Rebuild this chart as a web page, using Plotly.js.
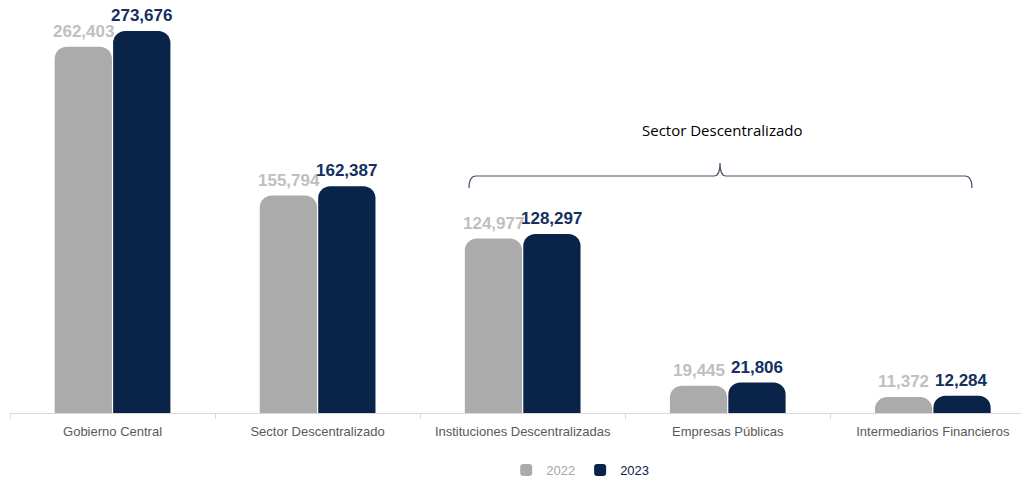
<!DOCTYPE html>
<html>
<head>
<meta charset="utf-8">
<script src="https://cdn.plot.ly/plotly-3.0.1.min.js"></script>
<style>html,body{margin:0;padding:0;background:#fff;}#chart{width:1025px;height:483px;}</style>
</head>
<body>
<div id="chart"></div>
<script>
const categories = ["Gobierno Central", "Sector Descentralizado", "Instituciones Descentralizadas", "Empresas Públicas", "Intermediarios Financieros"];
const values2022 = [262403, 155794, 124977, 19445, 11372];
const values2023 = [273676, 162387, 128297, 21806, 12284];
const seriesNames = ["2022", "2023"];
const bracketLabel = "Sector Descentralizado";

const gray = "#ababab", navy = "#0a2449";
const grayText = "#bfbfbf", navyText = "#14305e";

const fmt = v => v.toLocaleString("en-US");

const traces = [
  {type: "bar", x: categories, y: values2022, name: '<span style="color:#a6a6a6">' + seriesNames[0] + '</span>',
   marker: {color: gray, cornerradius: 12, line: {width: 0}}, hoverinfo: "none"},
  {type: "bar", x: categories, y: values2023, name: '<span style="color:' + navy + '">' + seriesNames[1] + '</span>',
   marker: {color: navy, cornerradius: 12, line: {width: 0}}, hoverinfo: "none"}
];

const annotations = [];
categories.forEach((c, i) => {
  annotations.push({x: c, y: values2022[i], xref: "x", yref: "y", text: fmt(values2022[i]), showarrow: false,
    xshift: -29, yshift: 4, yanchor: "bottom", font: {family: "Liberation Sans, Arial", size: 17, color: grayText, weight: "bold"}});
  annotations.push({x: c, y: values2023[i], xref: "x", yref: "y", text: fmt(values2023[i]), showarrow: false,
    xshift: 29, yshift: 4, yanchor: "bottom", font: {family: "Liberation Sans, Arial", size: 17, color: navyText, weight: "bold"}});
});
annotations.push({x: 0.704, y: 0.72, xref: "paper", yref: "paper", text: bracketLabel, showarrow: false,
  xanchor: "center", yanchor: "middle", font: {family: "Open Sans, Liberation Sans", size: 15, color: "#000"}});

const layout = {
  width: 1025, height: 483,
  margin: {l: 10, r: 4, t: 20, b: 70, autoexpand: false},
  paper_bgcolor: "#fff", plot_bgcolor: "#fff",
  barmode: "group", bargap: 0.43, bargroupgap: 0.02,
  showlegend: true,
  legend: {orientation: "h", x: 0.564, xanchor: "center", yref: "container", y: 0.027, yanchor: "middle",
    font: {family: "Liberation Sans, Arial", size: 13}, itemwidth: 30, traceorder: "normal"},
  xaxis: {type: "category", range: [-0.5, 4.43], showline: true, linecolor: "#d9d9d9", linewidth: 1,
    ticks: "outside", tickson: "boundaries", ticklen: 5, tickcolor: "#d9d9d9", ticklabelstandoff: 6,
    tickfont: {family: "Liberation Sans, Arial", size: 13, color: "#595959"}, showgrid: false, zeroline: false,
    automargin: false, fixedrange: true},
  yaxis: {range: [0, 281500], visible: false, showgrid: false, zeroline: false, fixedrange: true},
  annotations: annotations,
  shapes: [{type: "path", xref: "paper", yref: "paper",
    path: "M 0.4540 0.5725 Q 0.4540 0.6031 0.4609 0.6031 L 0.6963 0.6031 Q 0.7023 0.6031 0.7023 0.6361 Q 0.7023 0.6031 0.7082 0.6031 L 0.9446 0.6031 Q 0.9515 0.6031 0.9515 0.5725",
    line: {color: "#44546a", width: 1.2}}]
};

Plotly.newPlot("chart", traces, layout, {displayModeBar: false, staticPlot: true});
</script>
</body>
</html>
